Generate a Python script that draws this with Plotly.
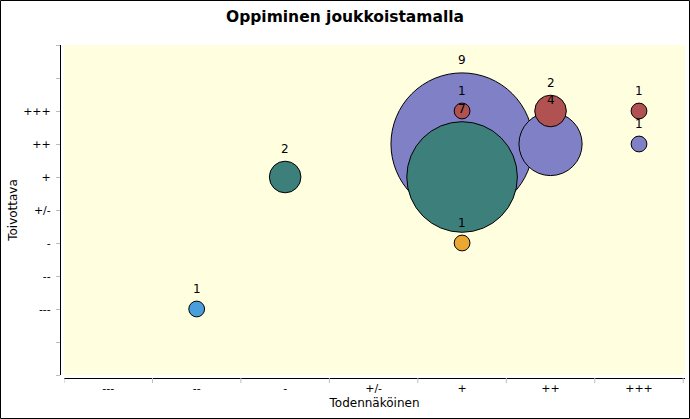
import plotly.graph_objects as go

# Category labels (both axes use the same scale)
x_labels = ["---", "--", "-", "+/-", "+", "++", "+++"]
y_labels = ["---", "--", "-", "+/-", "+", "++", "+++"]

# Bubble data (drawing order matters for overlap)
x_cat = ["+", "+", "+", "+", "++", "++", "+++", "+++", "-", "--"]
y_cat = ["++", "+", "+++", "-", "++", "+++", "++", "+++", "+", "---"]
counts = [9, 7, 1, 1, 4, 2, 1, 1, 2, 1]

# Colour by y category
y_colors = {
    "+++": "#b05252",
    "++": "#8080c6",
    "+": "#3d807b",
    "-": "#eaa832",
    "---": "#4a9edb",
}

x_idx = [x_labels.index(v) for v in x_cat]
y_idx = [y_labels.index(v) for v in y_cat]
colors = [y_colors[v] for v in y_cat]

y_tickvals = list(range(-2, 9))
y_ticktext = [y_labels[v] if 0 <= v < len(y_labels) else "" for v in y_tickvals]

font_family = "DejaVu Sans"
px_per_unit = 15.8  # bubble diameter in px per count

fig = go.Figure()
fig.add_trace(go.Scatter(
    x=x_idx, y=y_idx,
    mode="markers",
    marker=dict(
        size=counts,
        sizemode="diameter",
        sizeref=1 / px_per_unit,
        color=colors,
        opacity=1,
        line=dict(color="#000000", width=1),
    ),
    cliponaxis=False,
    hoverinfo="skip",
    showlegend=False,
))

# Count labels above each bubble (drawn on top of all bubbles)
annotations = [
    dict(x=xi, y=yi, xref="x", yref="y", text=str(c), showarrow=False,
         yshift=c * px_per_unit / 2 + 12.5,
         font=dict(family=font_family, size=12, color="#000000"))
    for xi, yi, c in zip(x_idx, y_idx, counts)
]

W, H = 690, 419
ml, mr, mt, mb = 60, 5, 45, 41
pw = W - ml - mr
ph = H - mt - mb

fig.update_layout(
    width=W, height=H,
    margin=dict(l=ml, r=mr, t=mt, b=mb, pad=0, autoexpand=False),
    paper_bgcolor="#ffffff",
    plot_bgcolor="#ffffe0",
    font=dict(family=font_family, size=11, color="#000000"),
    title=dict(
        text="<b>Oppiminen joukkoistamalla</b>",
        x=0.5, xanchor="center", y=1 - 17 / H, yanchor="middle",
        font=dict(family=font_family, size=15.5, color="#000000"),
    ),
    annotations=annotations,
    xaxis=dict(
        domain=[4 / pw, 1],
        anchor="free", position=0,
        range=[-0.5, 6.52],
        tickmode="array",
        tickvals=list(range(len(x_labels))),
        ticktext=x_labels,
        showgrid=False, zeroline=False,
        showline=True, linecolor="#000000", linewidth=1,
        ticks="",
        automargin=False,
        tickfont=dict(family=font_family, size=11, color="#000000"),
        title=dict(text="Todennäköinen", standoff=4,
                   font=dict(family=font_family, size=12, color="#000000")),
        fixedrange=True,
    ),
    yaxis=dict(
        domain=[3 / ph, 1],
        anchor="free", position=0,
        range=[-2, 8],
        tickmode="array",
        tickvals=y_tickvals,
        ticktext=y_ticktext,
        showgrid=False, zeroline=False,
        showline=True, linecolor="#000000", linewidth=1,
        ticks="outside", ticklen=4, tickcolor="#bbbbbb", tickwidth=1,
        ticklabelstandoff=3,
        automargin=False,
        tickfont=dict(family=font_family, size=11, color="#000000"),
        title=dict(text="Toivottava", standoff=1,
                   font=dict(family=font_family, size=12, color="#000000")),
        fixedrange=True,
    ),
    shapes=[
        dict(type="rect", xref="paper", yref="paper",
             x0=(0.5 - ml) / pw, x1=1 + (mr - 0.5) / pw,
             y0=-(mb - 0.5) / ph, y1=1 + (mt - 0.5) / ph,
             line=dict(color="#000000", width=1), fillcolor="rgba(0,0,0,0)", layer="below"),
    ] + [
        dict(type="line", xref="x", yref="paper",
             x0=b, x1=b, y0=0, y1=-5 / ph,
             line=dict(color="#bbbbbb", width=1))
        for b in [i - 0.5 for i in range(len(x_labels) + 1)]
    ],
)

fig.write_html(
    "out.html",
    config={"displayModeBar": False},
    post_script="document.body.style.margin='0px';document.body.style.overflow='hidden';",
)
